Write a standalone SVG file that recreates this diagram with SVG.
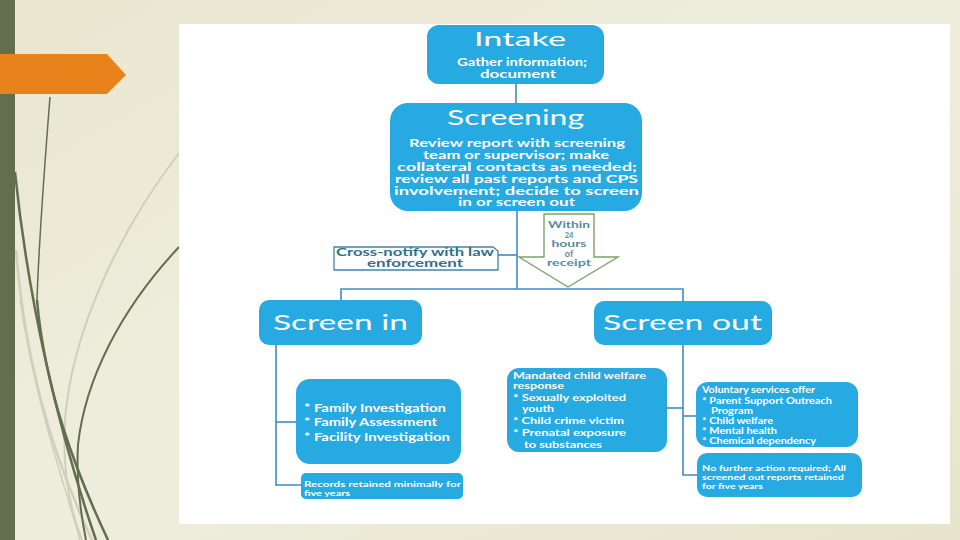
<svg xmlns="http://www.w3.org/2000/svg" width="960" height="540" viewBox="0 0 960 540">
<defs>
<linearGradient id="bg" x1="0" y1="0" x2="1" y2="1">
<stop offset="0" stop-color="#e9e6cf"/>
<stop offset="0.5" stop-color="#efedde"/>
<stop offset="1" stop-color="#e7e4cc"/>
</linearGradient>
<style>
.box{fill:#27a9e1}
.conn{stroke:#3f8dc4;stroke-width:1.6;fill:none}
.t{font-family:Lato,"Open Sans","Liberation Sans",sans-serif;fill:#ffffff}
.title{font-weight:normal}
.b{font-weight:bold}
.dk{stroke:#626f4e;fill:none}
.lt{stroke:#cfd0bb;fill:none}
</style>
</defs>
<rect width="960" height="540" fill="url(#bg)"/>
<g id="decor">
<path class="lt" stroke-width="2" d="M179,153 C120,230 72,330 65,420 C62,470 70,510 82,540"/>
<path class="lt" stroke-width="2.5" d="M16,250 C25,360 50,450 92,540"/>
<path class="lt" stroke-width="1.5" d="M20,300 C35,400 60,470 80,540"/>
<path class="dk" stroke-width="1.5" d="M50,97 C45,160 39,240 37,300"/>
<path class="dk" stroke-width="2.5" d="M37,300 C45,390 75,470 108,540"/>
<path class="dk" stroke-width="2.5" d="M15,172 C28,300 58,430 96,540"/>
<path class="dk" stroke-width="2" d="M179,247 C120,310 85,380 78,445 C76,480 80,510 86,540"/>
</g>
<rect x="0" y="0" width="15" height="540" fill="#626f4e"/>
<path d="M0,54 H107 L126,75 L107,94 H0 Z" fill="#e8831b"/>
<rect x="179" y="24" width="771" height="500" fill="#ffffff"/>
<g id="connectors">
<line class="conn" x1="516" y1="84" x2="516" y2="103"/>
<line class="conn" x1="517" y1="211" x2="517" y2="289"/>
<line class="conn" x1="498" y1="255" x2="517" y2="255"/>
<polyline class="conn" points="341,300 341,289 683,289 683,301"/>
<polyline class="conn" points="276,345 276,485 301,485"/>
<line class="conn" x1="276" y1="422" x2="296" y2="422"/>
<polyline class="conn" points="683,345 683,475 697,475"/>
<line class="conn" x1="667" y1="408" x2="683" y2="408"/>
<line class="conn" x1="683" y1="416" x2="696" y2="416"/>
</g>
<g id="intake">
<rect class="box" x="427" y="25" width="177" height="59" rx="12"/>
<text class="t title" x="474" y="46" font-size="20" textLength="92" lengthAdjust="spacingAndGlyphs">Intake</text>
<text class="t b" x="457" y="66" font-size="10.5" textLength="130" lengthAdjust="spacingAndGlyphs">Gather information;</text>
<text class="t b" x="480" y="78" font-size="10.5" textLength="76" lengthAdjust="spacingAndGlyphs">document</text>
</g>
<g id="screening">
<rect class="box" x="390" y="103" width="252" height="108" rx="18"/>
<text class="t title" x="447" y="125" font-size="21" textLength="137" lengthAdjust="spacingAndGlyphs">Screening</text>
<text class="t b" x="409" y="147" font-size="10.5" textLength="216" lengthAdjust="spacingAndGlyphs">Review report with screening</text>
<text class="t b" x="423" y="159" font-size="10.5" textLength="186" lengthAdjust="spacingAndGlyphs">team or supervisor; make</text>
<text class="t b" x="397" y="171" font-size="10.5" textLength="240" lengthAdjust="spacingAndGlyphs">collateral contacts as needed;</text>
<text class="t b" x="395" y="183" font-size="10.5" textLength="243" lengthAdjust="spacingAndGlyphs">review all past reports and CPS</text>
<text class="t b" x="394" y="195" font-size="10.5" textLength="245" lengthAdjust="spacingAndGlyphs">involvement; decide to  screen</text>
<text class="t b" x="458" y="206" font-size="10.5" textLength="117" lengthAdjust="spacingAndGlyphs">in or screen out</text>
</g>
<g id="crossnotify">
<path d="M334,247 H493 L498,251 V270 H334 Z" fill="#ffffff" stroke="#3f84a8" stroke-width="1.3"/>
<text class="t b" x="336" y="256" font-size="10.5" style="fill:#2f6f8f" textLength="158" lengthAdjust="spacingAndGlyphs">Cross-notify with law</text>
<text class="t b" x="367" y="267" font-size="10.5" style="fill:#2f6f8f" textLength="96" lengthAdjust="spacingAndGlyphs">enforcement</text>
</g>
<g id="within">
<path d="M544,214 H594 V257 H618 L568,287 L519,257 H544 Z" fill="#ffffff" stroke="#7ba36b" stroke-width="1.4"/>
<g class="t b" style="fill:#5a8aa0" text-anchor="middle">
<text x="569" y="228" font-size="9" textLength="42" lengthAdjust="spacingAndGlyphs">Within</text>
<text x="569" y="237.5" font-size="7.5">24</text>
<text x="569" y="247" font-size="9" textLength="35" lengthAdjust="spacingAndGlyphs">hours</text>
<text x="569" y="256.5" font-size="9">of</text>
<text x="569" y="266" font-size="9" textLength="44" lengthAdjust="spacingAndGlyphs">receipt</text>
</g>
</g>
<g id="screenin">
<rect class="box" x="259" y="300" width="163" height="45" rx="10"/>
<text class="t title" x="273" y="330" font-size="22" textLength="135" lengthAdjust="spacingAndGlyphs">Screen in</text>
</g>
<g id="screenout">
<rect class="box" x="594" y="301" width="178" height="44" rx="10"/>
<text class="t title" x="603" y="330" font-size="22" textLength="159" lengthAdjust="spacingAndGlyphs">Screen out</text>
</g>
<g id="family">
<rect class="box" x="296" y="379" width="165" height="85" rx="14"/>
<text class="t b" x="304" y="412" font-size="11" textLength="142" lengthAdjust="spacingAndGlyphs">* Family Investigation</text>
<text class="t b" x="304" y="426" font-size="11" textLength="133" lengthAdjust="spacingAndGlyphs">* Family Assessment</text>
<text class="t b" x="304" y="441" font-size="11" textLength="146" lengthAdjust="spacingAndGlyphs">* Facility  Investigation</text>
</g>
<g id="records">
<rect class="box" x="301" y="473" width="162" height="26" rx="5"/>
<text class="t b" x="304" y="486.5" font-size="8" textLength="157" lengthAdjust="spacingAndGlyphs">Records retained minimally for</text>
<text class="t b" x="304" y="495.5" font-size="8" textLength="46" lengthAdjust="spacingAndGlyphs">five years</text>
</g>
<g id="mandated">
<rect class="box" x="507" y="368" width="160" height="84" rx="12"/>
<text class="t b" x="513" y="379" font-size="9" textLength="133" lengthAdjust="spacingAndGlyphs">Mandated child welfare</text>
<text class="t b" x="513" y="389" font-size="9" textLength="51" lengthAdjust="spacingAndGlyphs">response</text>
<text class="t b" x="513" y="401" font-size="9" textLength="113" lengthAdjust="spacingAndGlyphs">* Sexually exploited</text>
<text class="t b" x="522" y="412" font-size="9" textLength="32" lengthAdjust="spacingAndGlyphs">youth</text>
<text class="t b" x="513" y="424" font-size="9" textLength="111" lengthAdjust="spacingAndGlyphs">* Child crime victim</text>
<text class="t b" x="513" y="436" font-size="9" textLength="113" lengthAdjust="spacingAndGlyphs">* Prenatal exposure</text>
<text class="t b" x="524" y="448" font-size="9" textLength="78" lengthAdjust="spacingAndGlyphs">to substances</text>
</g>
<g id="voluntary">
<rect class="box" x="696" y="382" width="162" height="65" rx="12"/>
<text class="t b" x="702" y="393" font-size="8.5" textLength="113" lengthAdjust="spacingAndGlyphs">Voluntary services offer</text>
<text class="t b" x="702" y="403.5" font-size="8.5" textLength="130" lengthAdjust="spacingAndGlyphs">* Parent Support Outreach</text>
<text class="t b" x="711" y="414" font-size="8.5" textLength="42" lengthAdjust="spacingAndGlyphs">Program</text>
<text class="t b" x="702" y="424" font-size="8.5" textLength="71" lengthAdjust="spacingAndGlyphs">* Child welfare</text>
<text class="t b" x="702" y="434" font-size="8.5" textLength="75" lengthAdjust="spacingAndGlyphs">* Mental health</text>
<text class="t b" x="702" y="444" font-size="8.5" textLength="114" lengthAdjust="spacingAndGlyphs">* Chemical dependency</text>
</g>
<g id="nofurther">
<rect class="box" x="697" y="453" width="165" height="44" rx="10"/>
<text class="t b" x="702" y="471" font-size="8" textLength="144" lengthAdjust="spacingAndGlyphs">No further action required; All</text>
<text class="t b" x="702" y="480" font-size="8" textLength="142" lengthAdjust="spacingAndGlyphs">screened out reports retained</text>
<text class="t b" x="702" y="489" font-size="8" textLength="61" lengthAdjust="spacingAndGlyphs">for five years</text>
</g>
</svg>
